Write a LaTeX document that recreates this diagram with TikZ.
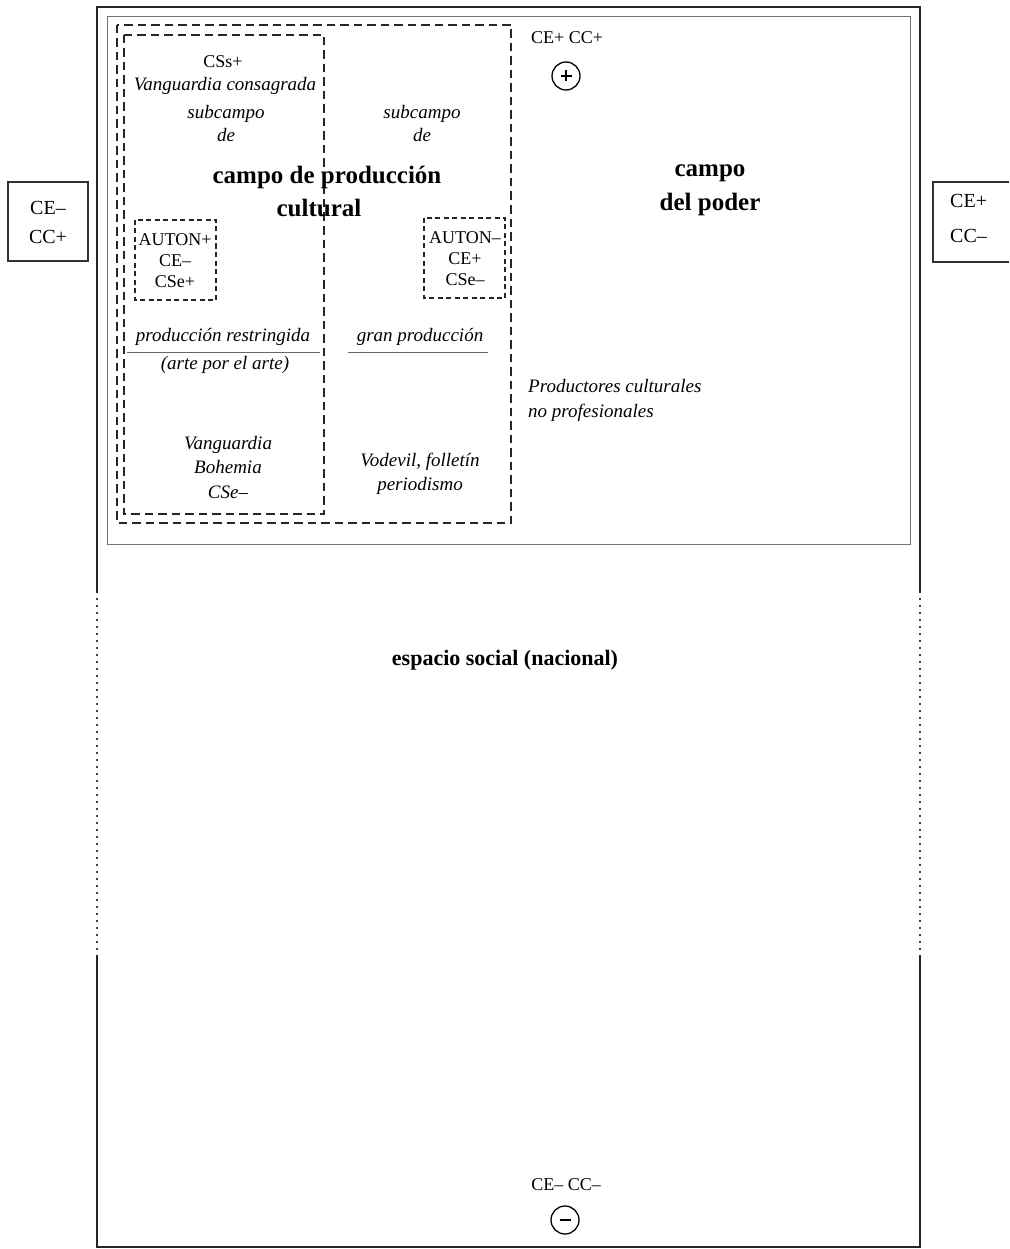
\documentclass[tikz,border=0pt]{standalone}
\usepackage{fontspec}
\setmainfont{Liberation Serif}
\begin{document}
\begin{tikzpicture}[x=1pt,y=-1pt,
  frame/.style={line width=1.8pt,black!85},
  dotside/.style={line width=2pt,black!75,dash pattern=on 2pt off 5pt},
  poder/.style={line width=1pt,black!55},
  dbox/.style={line width=1.8pt,black!85,dash pattern=on 8.5pt off 5pt},
  sbox/.style={line width=1.5pt,black!85,dash pattern=on 5pt off 3.5pt},
  sidebox/.style={line width=1.2pt,black!80},
  ulin/.style={line width=1pt,black!60},
  txt/.style={font=\fontsize{18}{21}\selectfont,inner sep=0pt,align=center},
  itx/.style={font=\fontsize{19}{24}\selectfont\itshape,inner sep=0pt,align=center},
  bigtx/.style={font=\fontsize{25}{31}\selectfont\bfseries,inner sep=0pt,align=center},
  sign/.style={circle,draw,line width=1.3pt,minimum size=28pt,inner sep=0pt},
  signbar/.style={line width=1.4pt}
]
\useasboundingbox (0,0) rectangle (1009,1249);
\fill[white] (0,0) rectangle (1009,1249);

% outer frame (espacio social)
\draw[frame] (97,593) -- (97,7) -- (920,7) -- (920,593);
\draw[dotside] (97,598) -- (97,955);
\draw[dotside] (920,598) -- (920,955);
\draw[frame] (97,955) -- (97,1247) -- (920,1247) -- (920,955);

% campo del poder
\draw[poder] (107,17) rectangle (910,544);

% campo de produccion cultural
\draw[dbox] (117,25) rectangle (511,523);
\draw[dbox] (124,35) rectangle (324,514);
\draw[sbox] (135,220) rectangle (216,300);
\draw[sbox] (424,218) rectangle (505,298);

% side boxes
\draw[sidebox] (8,182) rectangle (88,261);
\draw[sidebox] (1009,182) -- (933,182) -- (933,262) -- (1009,262);

% texts
\node[txt] (css) at (223,62) {CSs+};
\node[itx] (vcons) at (225,86) {Vanguardia consagrada};
\node[itx,font=\fontsize{19}{23}\selectfont\itshape] (subl) at (226,124) {subcampo\\de};
\node[itx,font=\fontsize{19}{23}\selectfont\itshape] (subr) at (422,124) {subcampo\\de};
\node[bigtx] (cpc1) at (327,177) {campo de producción};
\node[bigtx] (cpc2) at (319,208) {cultural};
\node[txt] (autp) at (175,261) {AUTON+\\CE–\\CSe+};
\node[txt] (autm) at (465,259) {AUTON–\\CE+\\CSe–};
\node[itx] (prest) at (223,337) {producción restringida};
\draw[ulin] (127,352) -- (320,352);
\node[itx] (apa) at (225,365) {(arte por el arte)};
\node[itx] (gran) at (420,337) {gran producción};
\draw[ulin] (348,352) -- (488,352);
\node[itx,font=\fontsize{19}{24.5}\selectfont\itshape] (vang) at (228,467) {Vanguardia\\Bohemia\\CSe–};
\node[itx] (vod) at (420,474) {Vodevil, folletín\\periodismo};
\node[itx,align=left,anchor=west,font=\fontsize{19}{25}\selectfont\itshape] (prod) at (528,400) {Productores culturales\\no profesionales};
\node[txt] (ecp) at (567,38) {CE+ CC+};
\node[sign] (plus) at (566,76) {};
\draw[signbar] ([xshift=-5.5pt]plus.center) -- ([xshift=5.5pt]plus.center);
\draw[signbar] ([yshift=-5.5pt]plus.center) -- ([yshift=5.5pt]plus.center);
\node[bigtx,font=\fontsize{25}{34}\selectfont\bfseries] (cpod) at (710,190) {campo\\del poder};
\node[txt,font=\fontsize{20}{35}\selectfont,align=left,anchor=west] (rbox) at (950,218) {CE+\\CC–};
\node[txt,font=\fontsize{20}{29}\selectfont] (lbox) at (48,222) {CE–\\CC+};
\node[bigtx,font=\fontsize{22}{26}\selectfont\bfseries] (esp) at (505,660) {espacio social (nacional)};
\node[txt] (ecm) at (566,1185) {CE– CC–};
\node[sign] (minus) at (565,1220) {};
\draw[signbar] ([xshift=-5.5pt]minus.center) -- ([xshift=5.5pt]minus.center);
\end{tikzpicture}
\end{document}
